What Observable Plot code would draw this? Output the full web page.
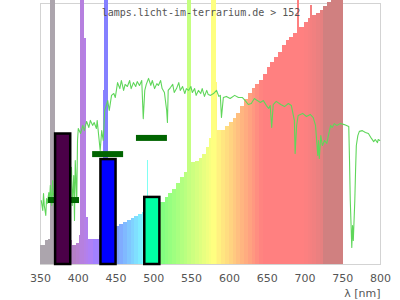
<!DOCTYPE html>
<html>
<head>
<meta charset="utf-8">
<script src="https://cdn.jsdelivr.net/npm/d3@7"></script>
<script src="https://cdn.jsdelivr.net/npm/@observablehq/plot@0.6"></script>
<style>
  html, body { margin: 0; padding: 0; background: white; }
</style>
</head>
<body>
<div id="chart"></div>
<script>
// Lamp spectrum: [start wavelength nm, relative intensity] (step-after); ends at lampEnd
const lampSpectrum = [
  [350,7.3],[354,7.3],[357,9.2],[360,9.6],[363,101],[370,7.5],[390,9.2],[393,7.3],[397,8.0],[401,11.1],
  [403.5,101],[408.2,86.6],[410.3,40],[411.5,18],[413,9.5],[420,9.5],[428,11.1],[432.8,66.7],[434.7,101],[440,14.6],
  [450,14.6],[455,15.3],[460,16.1],[465,16.9],[470,17.6],[475,18.4],[480,19.2],[485,19.9],[491,39.8],[492.5,20.3],
  [495,21],[509,23.8],[515,25.7],[520,27.2],[525,28.7],[530,31.0],[535,33.3],[540,35.2],[544.3,101],[550.5,39.1],
  [555,39.5],[560,40.6],[565,42.1],[570,44.8],[574,48.3],[576.7,101],[582.3,69.7],[584.5,51.3],[590,51.3],[595,52.9],
  [600,54.4],[605,55.9],[610,57.9],[615,60.5],[620,63.2],[625,65.5],[630,67.4],[635,69.0],[640,70.5],[645,72.8],
  [650,75.5],[655,77.4],[660,79.3],[665,81.2],[670,83.9],[675,85.8],[680,87.0],[685,88.5],[689.7,101],[692.8,90.8],
  [700,92.7],[705,94.3],[707.7,99.2],[709.5,95.4],[715,96.2],[720,97.3],[725,98.9],[730,100.4],[735,101],[740,101],
  [745,101]
];
const lampEnd = 751;

// Reference (sunlight) spectrum: [nm, relative intensity]
const sunSpectrum = [
  [351,24.5],[353,20.7],[354,27.2],[355,22.6],[357,18.8],[358,25.3],[359,23.4],[361,27.6],[362,24.5],[363,30.3],
  [365,22.6],[366,32.2],[367,26.4],[370,28.4],[375,26.4],[380,30.3],[385,24.5],[390,34.1],[391,37.2],[392,22.6],
  [394,34.1],[395,16.9],[396,39.8],[398,24.5],[399,47.5],[400,52.1],[403,50.2],[406,53.3],[408,51.3],[411,54.8],
  [414,52.5],[416,55.2],[419,53.3],[421,54.4],[424,52.1],[425,55.2],[427,49.4],[429,43.7],[431,51.3],[433,47.5],
  [435,59],[437,60.9],[439,62.8],[441,59],[444,64.8],[447,65.5],[449,64],[452,69.7],[455,67.4],[457,70.5],
  [460,66.7],[462,69],[465,68.2],[468,70.5],[470,67.4],[473,69.7],[476,68.2],[478,70.1],[481,68.6],[484,70.5],
  [486,55.9],[488,66.7],[490,69],[493,71.3],[496,68.6],[498,70.5],[501,67.4],[504,69.3],[506,68.6],[509,70.5],
  [511,67.4],[514,65.9],[517,59],[518,54.4],[519,66.7],[522,67.8],[525,69],[527,65.9],[530,67.4],[533,69.7],
  [535,66.7],[538,68.2],[541,65.5],[543,67.4],[546,66.7],[549,68.2],[551,65.9],[554,67.4],[556,64.8],[559,66.7],
  [562,65.5],[564,67.4],[567,64.4],[570,66.7],[572,65.1],[575,64.8],[579,65.5],[583,66.7],[586,64.4],[588,64.8],
  [589.5,56.3],[592,64],[596,64.4],[601,63.6],[607,64.8],[612,64],[617,64],[621,62.8],[625,61.3],[629,61.7],
  [633,63.6],[637,62.8],[641,62.1],[645,62.8],[649,60.9],[652,59.8],[654,60.9],[656,52.5],[658,61.3],[662,62.5],
  [668,61.3],[673,60.5],[678,61.7],[682,60.9],[686,55.2],[687,42.5],[689,53.3],[691,57.1],[697,57.9],[702,56.7],
  [707,57.5],[711,56.3],[714,53.3],[717,41.8],[718,47.5],[719,40.6],[721,49.4],[723,45.6],[726,47.5],[729,46.4],
  [731,49.4],[734,53.3],[736,52.5],[739,54],[742,53.3],[747,54],[752,53.6],[758,52.9],[759,39.8],[760,24.5],
  [762,6.5],[763,14.9],[764,9.2],[766,24.5],[767,36],[768,45.6],[770,49.4],[772,51],[776,51.3],[780,50.6],
  [784,50.2],[788,48.3],[791,47.1],[793,47.9],[796,46.7],[797,47.9],[799,47.5]
];

// Horizontal markers: [from nm, to nm, level]
const markers = [[360.6,401.6,24.7],[419,460,42.3],[477,518,48.5]];

// Bars: [from nm, to nm, level, colour]
const barFrom = [370, 430, 488];
const barTo = [390, 450, 508];
const barLevel = [50, 40.2, 25.7];
const barColor = ["#4b0048", "#0000ff", "#00ffa4"];

const xTicks = [350,400,450,500,550,600,650,700,750,800];
const titleText = "lamps.licht-im-terrarium.de > 152";
const axisLabel = "λ [nm]";

function specColor(w) {
  if (w < 380) return "#aca5ad";
  if (w >= 727) return "#d08080";
  let r, g, b;
  if (w < 440) { r = (440 - w) / 60; g = 0; b = 1; }
  else if (w < 490) { r = 0; g = (w - 440) / 50; b = 1; }
  else if (w < 510) { r = 0; g = 1; b = (510 - w) / 20; }
  else if (w < 580) { r = (w - 510) / 70; g = 1; b = 0; }
  else if (w < 645) { r = 1; g = (645 - w) / 65; b = 0; }
  else { r = 1; g = 0; b = 0; }
  const f = w < 420 ? 0.3 + 0.7 * (w - 380) / 40 : (w > 700 ? 0.3 + 0.7 * (780 - w) / 80 : 1);
  const c = v => Math.round(255 * (0.5 + 0.5 * v * f));
  return d3.rgb(c(r), c(g), c(b)).formatHex();
}

const segs = lampSpectrum.map((d, i) => ({
  x1: d[0],
  x2: i + 1 < lampSpectrum.length ? lampSpectrum[i + 1][0] : lampEnd,
  v: d[1]
}));
segs.forEach(s => s.fill = specColor((s.x1 + s.x2) / 2));

const bars = barFrom.map((f, i) => ({x1: f, x2: barTo[i], y: barLevel[i], fill: barColor[i]}));

const chart = Plot.plot({
  width: 400,
  height: 300,
  marginLeft: 40,
  marginRight: 20,
  marginTop: 3,
  marginBottom: 36,
  style: {fontFamily: "DejaVu Sans", fontSize: "11px", color: "#555", background: "white"},
  x: {domain: [350, 800], ticks: xTicks, tickSize: 0, tickPadding: 10, label: null},
  y: {domain: [0, 100], axis: null},
  color: {type: "identity"},
  marks: [
    Plot.frame({stroke: "#d3d3d3"}),
    Plot.rectY(segs, {x1: "x1", x2: "x2", y: "v", fill: "fill", shapeRendering: "crispEdges"}),
    Plot.line(sunSpectrum, {x: d => d[0], y: d => d[1], stroke: "#5fd65a", strokeWidth: 1.1}),
    Plot.ruleY(markers, {x1: d => d[0], x2: d => d[1], y: d => d[2], stroke: "#006400", strokeWidth: 6}),
    Plot.rectY(bars, {x1: "x1", x2: "x2", y: "y", fill: "fill", stroke: "black", strokeWidth: 2.5}),
    Plot.text([titleText], {frameAnchor: "top", dx: -9.5, dy: 8.8, lineAnchor: "middle", fontFamily: "DejaVu Sans Mono", fontSize: 10, fill: "#555"}),
    Plot.text([axisLabel], {frameAnchor: "bottom-right", textAnchor: "end", dy: 28.5, lineAnchor: "middle", fontSize: 11, fill: "#555"})
  ]
});
document.getElementById("chart").appendChild(chart);
</script>
</body>
</html>
